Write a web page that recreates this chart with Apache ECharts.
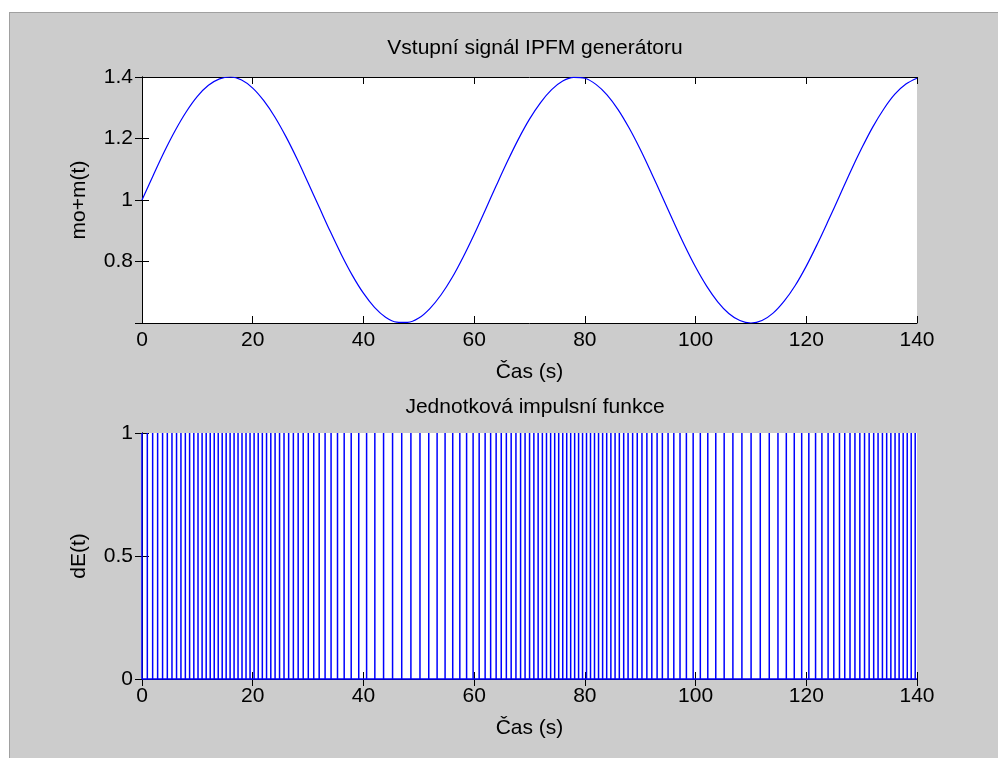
<!DOCTYPE html>
<html>
<head>
<meta charset="utf-8">
<script src="https://cdn.jsdelivr.net/npm/echarts@6/dist/echarts.min.js"></script>
<style>
html,body{margin:0;padding:0;background:#ffffff;width:998px;height:758px;overflow:hidden;}
#frame{position:absolute;left:9px;top:12px;width:989px;height:746px;background:#cccccc;border-left:1px solid #a0a0a0;border-top:1px solid #a0a0a0;box-sizing:border-box;}
#chart{position:absolute;left:0;top:0;width:998px;height:758px;}
</style>
</head>
<body>
<div id="frame"></div>
<div id="chart"></div>
<script>
// Top plot: input signal of the IPFM generator
const signalTimes = [0,2,4,6,8,10,12,14,16,18,20,22,24,26,28,30,32,34,36,38,40,42,44,46,48,50,52,54,56,58,60,62,64,66,68,70,72,74,76,78,80,82,84,86,88,90,92,94,96,98,100,102,104,106,108,110,112,114,116,118,120,122,124,126,128,130,132,134,136,138,140];
const signalValues = [1.000,1.079,1.156,1.226,1.287,1.337,1.373,1.394,1.400,1.390,1.364,1.323,1.270,1.206,1.134,1.056,0.977,0.898,0.823,0.755,0.697,0.651,0.619,0.603,0.602,0.616,0.647,0.691,0.747,0.814,0.888,0.967,1.047,1.125,1.198,1.263,1.317,1.359,1.387,1.399,1.396,1.376,1.342,1.294,1.234,1.165,1.089,1.010,0.930,0.853,0.782,0.720,0.669,0.631,0.608,0.600,0.608,0.632,0.671,0.722,0.785,0.857,0.934,1.013,1.093,1.168,1.237,1.296,1.344,1.377,1.396];

// Bottom plot: times of unit impulses
const pulseTimes = [0,0.962,1.923,2.823,3.718,4.574,5.414,6.240,7.035,7.830,8.599,9.361,10.119,10.856,11.594,12.325,13.047,13.769,14.486,15.201,15.916,16.633,17.349,18.066,18.792,19.518,20.250,20.993,21.737,22.498,23.268,24.041,24.848,25.655,26.489,27.343,28.211,29.124,30.039,31.023,32.007,33.074,34.154,35.317,36.524,37.792,39.153,40.573,42.061,43.638,45.264,46.918,48.576,50.214,51.800,53.309,54.750,56.131,57.413,58.637,59.813,60.907,61.985,62.980,63.973,64.896,65.817,66.689,67.550,68.388,69.200,70.012,70.787,71.561,72.324,73.070,73.816,74.549,75.276,76.004,76.721,77.438,78.154,78.869,79.584,80.301,81.022,81.743,82.473,83.208,83.943,84.700,85.458,86.225,87.016,87.807,88.630,89.463,90.315,91.202,92.096,93.049,94.001,95.032,96.069,97.190,98.341,99.564,100.858,102.206,103.648,105.166,106.742,108.370,110.029,111.688,113.312,114.883,116.392,117.828,119.170,120.458,121.676,122.821,123.938,124.970,125.998,126.947,127.897,128.788,129.673,130.524,131.355,132.177,132.966,133.754,134.521,135.279,136.035,136.769,137.504,138.234,138.954,139.675];
const pulseHeight = 1;

const topTitle = 'Vstupní signál IPFM generátoru';
const bottomTitle = 'Jednotková impulsní funkce';
const xName = 'Čas (s)';
const topYName = 'mo+m(t)';
const bottomYName = 'dE(t)';

const FONT = 'Liberation Sans, Arial, sans-serif';
const FS = 21;

const signalData = signalTimes.map((t, i) => [t, signalValues[i]]);
const pulseData = [];
pulseTimes.forEach(t => { pulseData.push([t, 0], [t, pulseHeight], [t, 0]); });
pulseData.push([140, 0]);

function xAxisPair(gi) {
  const base = {
    gridIndex: gi, type: 'value', min: 0, max: 140, interval: 20,
    axisLine: {show: true, lineStyle: {color: '#000', width: 1}},
    axisTick: {show: true, inside: true, length: 7, lineStyle: {color: '#000'}},
    splitLine: {show: false}
  };
  return [
    Object.assign({}, base, {
      position: 'bottom',
      axisLabel: {show: true, color: '#000', fontSize: FS, fontFamily: FONT, margin: 7},
      name: xName, nameLocation: 'middle', nameGap: 39,
      nameTextStyle: {color: '#000', fontSize: FS, fontFamily: FONT}
    }),
    Object.assign({}, base, {position: 'top', axisLabel: {show: false}})
  ];
}
function yAxisPair(gi, min, max, interval, name, showMin) {
  const base = {
    gridIndex: gi, type: 'value', min: min, max: max, interval: interval,
    axisLine: {show: true, lineStyle: {color: '#000', width: 1}},
    axisTick: {show: true, inside: true, length: 7, lineStyle: {color: '#000'}},
    splitLine: {show: false}
  };
  return [
    Object.assign({}, base, {
      position: 'left',
      axisLabel: {show: true, color: '#000', fontSize: FS, fontFamily: FONT, margin: 9, showMinLabel: showMin},
      name: name, nameLocation: 'middle', nameGap: 52, nameRotate: 90,
      nameTextStyle: {color: '#000', fontSize: FS, fontFamily: FONT}
    }),
    Object.assign({}, base, {position: 'right', axisLabel: {show: false}})
  ];
}

const chart = echarts.init(document.getElementById('chart'), null, {renderer: 'canvas'});
chart.setOption({
  animation: false,
  backgroundColor: 'transparent',
  title: [
    {text: topTitle, left: 530, top: 33, textAlign: 'center',
     textStyle: {color: '#000', fontSize: FS, fontWeight: 'normal', fontFamily: FONT}},
    {text: bottomTitle, left: 530, top: 392, textAlign: 'center',
     textStyle: {color: '#000', fontSize: FS, fontWeight: 'normal', fontFamily: FONT}}
  ],
  grid: [
    {left: 142, top: 77, width: 775, height: 246, show: true, backgroundColor: '#ffffff', borderWidth: 0},
    {left: 142, top: 433, width: 775, height: 246, show: true, backgroundColor: '#ffffff', borderWidth: 0}
  ],
  xAxis: xAxisPair(0).concat(xAxisPair(1)),
  yAxis: yAxisPair(0, 0.6, 1.4, 0.2, topYName, false).concat(yAxisPair(1, 0, 1, 0.5, bottomYName, true)),
  series: [
    {type: 'line', xAxisIndex: 0, yAxisIndex: 0, data: signalData, showSymbol: false, smooth: 0.35,
     lineStyle: {color: '#0000ff', width: 1.2}, itemStyle: {color: '#0000ff'}, clip: true},
    {type: 'line', xAxisIndex: 2, yAxisIndex: 2, data: pulseData, showSymbol: false,
     lineStyle: {color: '#0000ff', width: 1.5}, itemStyle: {color: '#0000ff'}, clip: false}
  ]
});
</script>
</body>
</html>
